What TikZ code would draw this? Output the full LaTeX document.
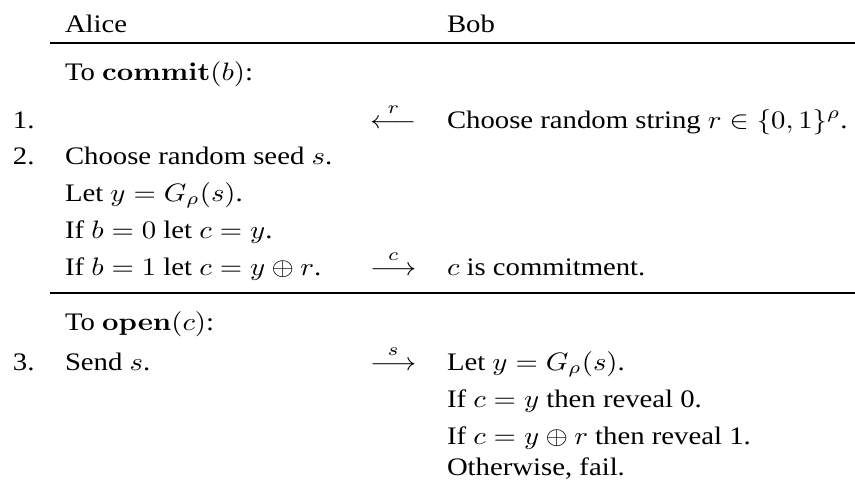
\documentclass[tikz,border=0pt]{standalone}
\usepackage[no-math]{fontspec}
\usepackage{graphicx}
\setmainfont{Liberation Serif}
\newcommand{\sx}[1]{\scalebox{1.14}[1]{#1}}
\begin{document}
\begin{tikzpicture}[x=0.3968pt,y=-0.3968pt,
  t/.style={anchor=base west, inner sep=0pt, outer sep=0pt},
  rule/.style={line width=0.6pt}]
\useasboundingbox (0,0) rectangle (855,479);
% header
\node[t] (alice) at (65,32) {\sx{Alice}};
\node[t] (bob) at (447,32) {\sx{Bob}};
\coordinate (ruleAa) at (50,43);
\coordinate (ruleAb) at (855,43);
\draw[rule] (ruleAa) -- (ruleAb);
% commit phase
\node[t] (commit) at (65,80) {\sx{To $\mathbf{commit}(b)$:}};
\node[t] (n1) at (13,128) {\sx{1.}};
\node[t] (arrR) at (370,128) {\sx{$\stackrel{r}{\longleftarrow}$}};
\node[t] (bob1) at (447,128) {\sx{Choose random string $r\in\{0,1\}^\rho$.}};
\node[t] (n2) at (13,164) {\sx{2.}};
\node[t] (a2) at (65,164) {\sx{Choose random seed $s$.}};
\node[t] (a3) at (65,201) {\sx{Let $y=G_\rho(s)$.}};
\node[t] (a4) at (65,238) {\sx{If $b=0$ let $c=y$.}};
\node[t] (a5) at (65,275) {\sx{If $b=1$ let $c=y\oplus r$.}};
\node[t] (arrC) at (370,275) {\sx{$\stackrel{c}{\longrightarrow}$}};
\node[t] (bob2) at (447,275) {\sx{$c$ is commitment.}};
\coordinate (ruleBa) at (50,293);
\coordinate (ruleBb) at (855,293);
\draw[rule] (ruleBa) -- (ruleBb);
% open phase
\node[t] (open) at (65,330) {\sx{To $\mathbf{open}(c)$:}};
\node[t] (n3) at (13,370) {\sx{3.}};
\node[t] (a6) at (65,370) {\sx{Send $s$.}};
\node[t] (arrS) at (370,370) {\sx{$\stackrel{s}{\longrightarrow}$}};
\node[t] (bob3) at (447,370) {\sx{Let $y=G_\rho(s)$.}};
\node[t] (bob4) at (447,407) {\sx{If $c=y$ then reveal 0.}};
\node[t] (bob5) at (447,444) {\sx{If $c=y\oplus r$ then reveal 1.}};
\node[t] (bob6) at (447,475) {\sx{Otherwise, fail.}};
\end{tikzpicture}
\end{document}
